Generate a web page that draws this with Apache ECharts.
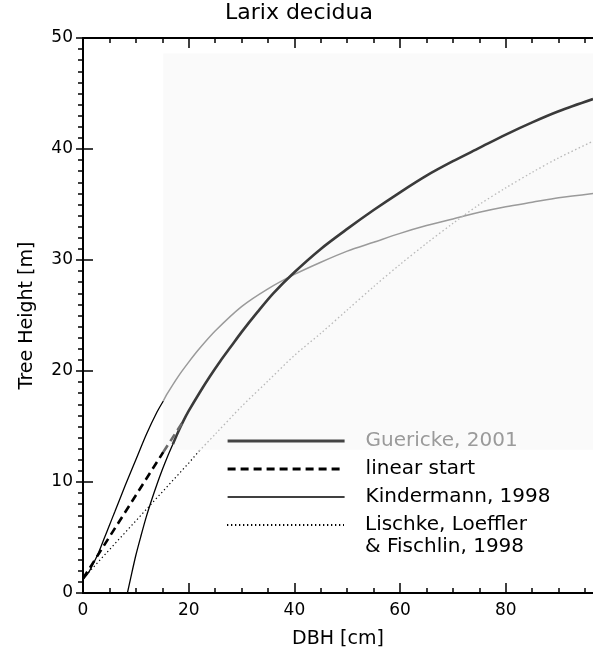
<!DOCTYPE html>
<html>
<head>
<meta charset="utf-8">
<script src="https://cdn.jsdelivr.net/npm/echarts@6/dist/echarts.min.js"></script>
<style>html,body{margin:0;padding:0;background:#fff;}#c{width:593px;height:658px;}</style>
</head>
<body>
<div id="c"></div>
<script>
// ---- data ----
const xTicks = [0, 20, 40, 60, 80];
const yTicks = [0, 10, 20, 30, 40, 50];

const guerickeDbh    = [17, 18, 19, 20, 22, 24, 26, 28, 30, 33, 36, 40, 45, 50, 55, 60, 65, 70, 75, 80, 85, 90, 96.5];
const guerickeHeight = [13.4, 14.5, 15.5, 16.4, 18.0, 19.5, 20.9, 22.2, 23.5, 25.3, 27.0, 28.9, 31.0, 32.8, 34.5, 36.1, 37.6, 38.9, 40.1, 41.3, 42.4, 43.4, 44.5];

const guerickeLowDbh    = [8.4, 9, 10, 11, 12, 13, 14, 15, 16, 17];
const guerickeLowHeight = [0, 1.3, 3.4, 5.2, 6.9, 8.4, 9.8, 11.1, 12.3, 13.4];

const linearDbh    = [0, 15.2, 19];
const linearHeight = [1.3, 12.7, 15.5];

const kinderLowDbh    = [0, 1, 2, 3, 4, 5, 6, 8, 10, 12, 14, 15.2];
const kinderLowHeight = [1.2, 1.8, 2.7, 3.7, 4.9, 6.1, 7.3, 9.7, 12.0, 14.3, 16.3, 17.3];
const kinderDbh    = [15.2, 16, 18, 20, 22, 25, 30, 35, 40, 45, 50, 55, 60, 65, 70, 75, 80, 85, 90, 96.5];
const kinderHeight = [17.3, 18.0, 19.5, 20.8, 22.0, 23.6, 25.8, 27.4, 28.7, 29.8, 30.8, 31.6, 32.4, 33.1, 33.7, 34.3, 34.8, 35.2, 35.6, 36.0];

const lischkeLowDbh    = [0, 5, 10, 15, 20, 22];
const lischkeLowHeight = [1.3, 3.9, 6.5, 9.1, 11.7, 12.8];
const lischkeDbh    = [22, 25, 30, 35, 40, 45, 50, 55, 60, 65, 70, 75, 80, 85, 90, 96.5];
const lischkeHeight = [12.8, 14.3, 16.8, 19.1, 21.4, 23.4, 25.5, 27.6, 29.6, 31.5, 33.3, 35.0, 36.5, 37.9, 39.2, 40.7];

const names = ['Guericke, 2001', 'linear start', 'Kindermann, 1998', 'Lischke, Loeffler\n& Fischlin, 1998'];

const pair = (xs, ys) => xs.map((x, i) => [x, ys[i]]);
const FONT = 'DejaVu Sans';
const X_MAX = 96.5;
const xMinorTicks = [];
for (let v = 5; v < X_MAX; v += 5) if (v % 20 !== 0) xMinorTicks.push(v);

const chart = echarts.init(document.getElementById('c'), null, {renderer: 'canvas'});

const tickLine = {color: '#000', width: 1.5};
function xAxisDef(pos, major, withLabels) {
  const a = {
    type: 'value', min: 0, max: X_MAX, interval: 20, position: pos,
    splitLine: {show: false},
    axisLine: {show: major, lineStyle: {color: '#000', width: 2}},
    axisTick: {show: true, inside: true, length: major ? 10 : 5, lineStyle: tickLine,
               customValues: major ? xTicks : xMinorTicks},
    axisLabel: {show: false}
  };
  if (withLabels) {
    a.axisLabel = {show: true, customValues: xTicks, fontFamily: FONT, fontSize: 17, color: '#000', margin: 9};
    a.name = 'DBH [cm]'; a.nameLocation = 'middle'; a.nameGap = 37;
    a.nameTextStyle = {fontFamily: FONT, fontSize: 19, color: '#000'};
  }
  return a;
}
function yAxisDef(pos, withLabels) {
  const a = {
    type: 'value', min: 0, max: 50, interval: 10, position: pos,
    splitLine: {show: false},
    axisLine: {show: withLabels, lineStyle: {color: '#000', width: 2}},
    axisTick: {show: true, inside: true, length: withLabels ? 10 : 7, lineStyle: tickLine},
    minorTick: {show: withLabels, splitNumber: 10, length: -5, lineStyle: tickLine},
    axisLabel: {show: false}
  };
  if (withLabels) {
    a.axisLabel = {show: true, fontFamily: FONT, fontSize: 17, color: '#000', margin: 10};
    a.name = 'Tree Height [m]'; a.nameLocation = 'middle'; a.nameGap = 46;
    a.nameTextStyle = {fontFamily: FONT, fontSize: 19, color: '#000'};
  }
  return a;
}

const lineSeries = (name, xs, ys, style, extra) => Object.assign({
  name: name, type: 'line', symbol: 'none', z: 3,
  data: pair(xs, ys),
  itemStyle: {color: 'transparent'},
  lineStyle: style
}, extra || {});

chart.setOption({
  animation: false,
  backgroundColor: '#fff',
  title: {
    text: 'Larix decidua', left: 225, top: 2, padding: 0,
    textStyle: {fontFamily: FONT, fontSize: 22, fontWeight: 'normal', color: '#000'}
  },
  grid: {left: 83, right: 0, top: 38, bottom: 65},
  xAxis: [
    xAxisDef('bottom', true, true),
    xAxisDef('bottom', false, false),
    xAxisDef('top', true, false),
    xAxisDef('top', false, false)
  ],
  yAxis: [
    yAxisDef('left', true),
    yAxisDef('right', false)
  ],
  legend: [
    {
      orient: 'vertical', left: 226, top: 431, padding: 0,
      itemWidth: 117, itemHeight: 14, itemGap: 8,
      itemStyle: {color: 'transparent', borderWidth: 0},
      textStyle: {fontFamily: FONT, fontSize: 20, color: '#000', lineHeight: 20, padding: [0, 0, 0, 16]},
      data: [
        {name: names[0], textStyle: {color: '#9a9a9a'}, lineStyle: {width: 3.2, color: '#444'}},
        {name: names[1], lineStyle: {width: 3}},
        {name: names[2], lineStyle: {width: 1.5}}
      ]
    },
    {
      orient: 'vertical', left: 226, top: 492, padding: 0,
      itemWidth: 117, itemHeight: 14,
      itemStyle: {color: 'transparent', borderWidth: 0},
      formatter: n => '\n' + n,
      textStyle: {fontFamily: FONT, fontSize: 20, color: '#000', lineHeight: 22, padding: [0, 0, 0, 16]},
      data: [{name: names[3]}]
    }
  ],
  series: [
    {
      name: 'bg', type: 'line', data: [], silent: true, z: 0,
      markArea: {
        silent: true,
        itemStyle: {color: '#fafafa'},
        data: [[{coord: [15.2, 48.6]}, {coord: [X_MAX, 12.9]}]]
      }
    },
    lineSeries(names[0], guerickeDbh, guerickeHeight, {color: '#3a3a3a', width: 2.6}, {z: 4, smooth: 0.3}),
    lineSeries(names[1], linearDbh.slice(0, 2), linearHeight.slice(0, 2), {color: '#000', width: 2.6, type: [8, 5]}, {z: 5}),
    lineSeries(names[2], kinderLowDbh, kinderLowHeight, {color: '#000', width: 1.3}, {smooth: 0.3}),
    lineSeries(names[3], lischkeLowDbh, lischkeLowHeight, {color: '#000', width: 1.2, type: [1.3, 2.7]}),
    lineSeries('Guericke lower', guerickeLowDbh, guerickeLowHeight, {color: '#000', width: 1.3}, {smooth: 0.3}),
    lineSeries(names[1], linearDbh.slice(1), linearHeight.slice(1), {color: '#6a6a6a', width: 2.6, type: [8, 5]}, {z: 5}),
    lineSeries(names[2], kinderDbh, kinderHeight, {color: '#9a9a9a', width: 1.5}, {smooth: 0.3}),
    lineSeries(names[3], lischkeDbh, lischkeHeight, {color: '#b8b8b8', width: 1.3, type: [1.5, 2.5]}, {smooth: 0.3})
  ]
});
</script>
</body>
</html>
